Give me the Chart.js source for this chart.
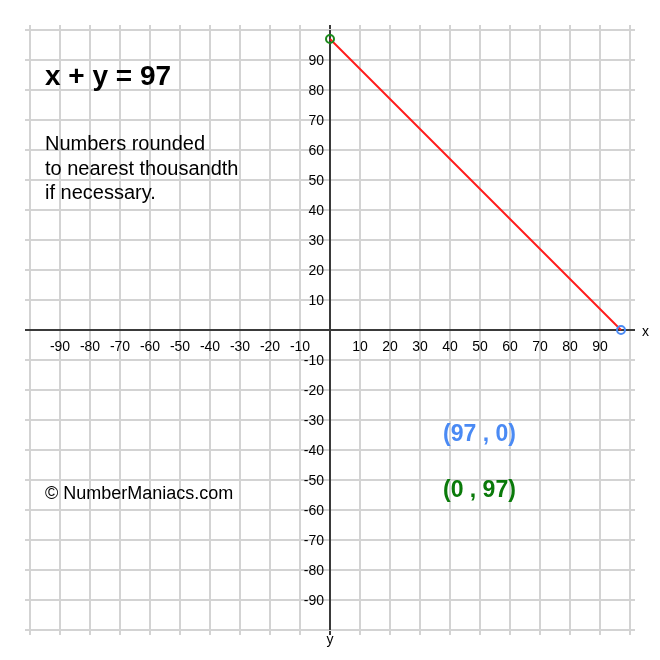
<!DOCTYPE html>
<html>
<head>
<meta charset="utf-8">
<script src="https://cdn.jsdelivr.net/npm/chart.js@4"></script>
<style>
  html, body { margin: 0; padding: 0; background: #fff; }
  canvas { display: block; }
</style>
</head>
<body>
<canvas id="graph" width="660" height="660"></canvas>
<script>
// equation x + y = 97, plotted between its two intercepts
const lineX = [0, 97];
const lineY = [97, 0];
const tickValues = [-90, -80, -70, -60, -50, -40, -30, -20, -10, 10, 20, 30, 40, 50, 60, 70, 80, 90];
const axisMin = -100;
const axisMax = 100;
const axisStep = 10;

const titleText = 'x + y = 97';
const noteLines = ['Numbers rounded', 'to nearest thousandth', 'if necessary.'];
const creditText = '\u00A9 NumberManiacs.com';
const pointLabels = ['(97 , 0)', '(0 , 97)'];

const GRID = '#d3d3d3';
const AXIS = '#3a3a3a';
const FONT = '"Liberation Sans", Arial, Helvetica, sans-serif';

const gridColor = (ctx) => (ctx.tick && ctx.tick.value === 0 ? AXIS : GRID);

function edgeScale(position, onArea) {
  return {
    type: 'linear',
    position: position,
    min: axisMin,
    max: axisMax,
    ticks: { display: false, stepSize: axisStep },
    grid: { color: gridColor, lineWidth: 2, tickLength: 5, drawOnChartArea: onArea, z: -2 },
    border: { display: false }
  };
}

// scale that only draws the zero line, above the light grid
function zeroScale(position) {
  return {
    type: 'linear',
    position: position,
    min: axisMin,
    max: axisMax,
    ticks: { display: false },
    afterBuildTicks: (scale) => { scale.ticks = [{ value: 0 }]; },
    grid: { color: AXIS, lineWidth: 2, drawTicks: false, z: -1 },
    border: { display: false }
  };
}

const labelsPlugin = {
  id: 'labels',
  afterDraw(chart) {
    const { ctx } = chart;
    const x = chart.scales.x;
    const y = chart.scales.y;
    const x0 = x.getPixelForValue(0);
    const y0 = y.getPixelForValue(0);

    ctx.save();
    ctx.fillStyle = '#000';
    ctx.font = '14px ' + FONT;

    ctx.textAlign = 'center';
    tickValues.forEach((v) => ctx.fillText(String(v), x.getPixelForValue(v), y0 + 21));

    ctx.textAlign = 'right';
    tickValues.forEach((v) => ctx.fillText(String(v), x0 - 6, y.getPixelForValue(v) + 5));

    ctx.textAlign = 'left';
    ctx.fillText('x', x.right + 12, y0 + 6);
    ctx.textAlign = 'center';
    ctx.fillText('y', x0, y.bottom + 14);

    ctx.textAlign = 'left';
    ctx.font = 'bold 28px ' + FONT;
    ctx.fillText(titleText, 45, 85);

    ctx.font = '20px ' + FONT;
    noteLines.forEach((line, i) => ctx.fillText(line, 45, 150 + i * 24.5));

    ctx.font = '18px ' + FONT;
    ctx.fillText(creditText, 45, 499);

    ctx.font = 'bold 23px ' + FONT;
    ctx.fillStyle = '#4a8af4';
    ctx.fillText(pointLabels[0], 443, 440.5);
    ctx.fillStyle = '#0a7a0a';
    ctx.fillText(pointLabels[1], 443, 497);
    ctx.restore();
  }
};

new Chart(document.getElementById('graph'), {
  type: 'scatter',
  data: {
    datasets: [
      {
        data: [{ x: lineX[0], y: lineY[0] }],
        xAxisID: 'x', yAxisID: 'y',
        pointRadius: 4,
        pointBorderWidth: 2,
        pointBorderColor: '#1a8a1a',
        pointBackgroundColor: 'rgba(0,0,0,0)'
      },
      {
        data: [{ x: lineX[1], y: lineY[1] }],
        xAxisID: 'x', yAxisID: 'y',
        pointRadius: 4,
        pointBorderWidth: 2,
        pointBorderColor: '#4a8af4',
        pointBackgroundColor: 'rgba(0,0,0,0)'
      },
      {
        data: lineX.map((v, i) => ({ x: v, y: lineY[i] })),
        xAxisID: 'x', yAxisID: 'y',
        showLine: true,
        borderColor: '#ff1a1a',
        borderWidth: 2,
        pointRadius: 0
      }
    ]
  },
  options: {
    responsive: false,
    animation: false,
    events: [],
    layout: { padding: 25 },
    plugins: { legend: { display: false }, tooltip: { enabled: false } },
    scales: {
      x: edgeScale('bottom', true),
      xTop: edgeScale('top', false),
      xZero: zeroScale('top'),
      y: edgeScale('left', true),
      yRight: edgeScale('right', false),
      yZero: zeroScale('right')
    }
  },
  plugins: [labelsPlugin]
});
</script>
</body>
</html>
